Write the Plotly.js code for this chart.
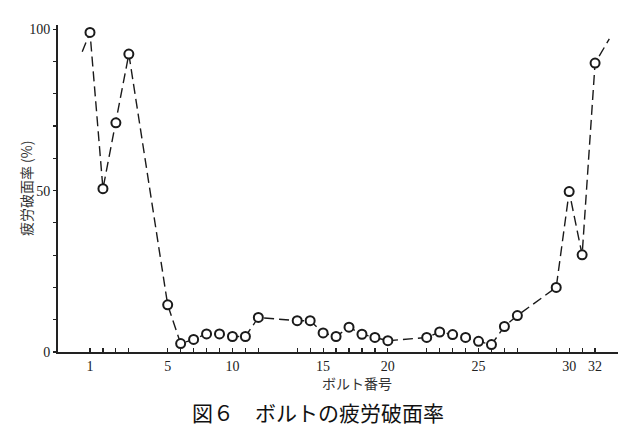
<!DOCTYPE html>
<html>
<head>
<meta charset="utf-8">
<script src="https://cdn.plot.ly/plotly-3.0.1.min.js"></script>
<style>
html,body{margin:0;padding:0;background:#fff;}
#chart{width:637px;height:437px;}
</style>
</head>
<body>
<div id="chart"></div>
<script>
// Bolt numbers and their positions along the axis (groups separated by gaps)
const bolts = [1,2,3,4,5,6,7,8,9,10,11,12,13,14,15,16,17,18,19,20,21,22,23,24,25,26,27,28,29,30,31,32];
const boltPos = [1,2,3,4,7,8,9,10,11,12,13,14,17,18,19,20,21,22,23,24,27,28,29,30,31,32,33,34,37,38,39,40];
// Fatigue fracture surface ratio (%)
const fatigueRatio = [99,50.6,71,92.3,14.6,2.6,3.9,5.6,5.6,4.8,4.8,10.7,9.7,9.7,5.9,4.8,7.7,5.5,4.5,3.5,4.5,6.2,5.4,4.5,3.3,2.3,7.9,11.3,20,49.7,30.1,89.5];
// Line continuing beyond the first and last bolt
const leadInPos = [0.4], leadInVal = [93];
const leadOutPos = [41.1], leadOutVal = [97];
// Tick labels
const xTickBolts = [1,5,10,15,20,25,30,32];
const yTickVals = [0,10,20,30,40,50,60,70,80,90,100];
const yTickLabels = ['0','','','','','50','','','','','100'];

const lineX = leadInPos.concat(boltPos, leadOutPos);
const lineY = leadInVal.concat(fatigueRatio, leadOutVal);

const traces = [
  {x: lineX, y: lineY, mode: 'lines', line: {color: '#1a1a1a', width: 1.4, dash: '10px,5px'}, hoverinfo: 'skip'},
  {x: boltPos, y: fatigueRatio, mode: 'markers', text: bolts,
   marker: {symbol: 'circle', size: 9, color: '#ffffff', line: {color: '#1a1a1a', width: 2}}}
];

const layout = {
  width: 637, height: 437,
  margin: {l: 58, r: 19, t: 25, b: 85},
  paper_bgcolor: '#ffffff', plot_bgcolor: '#ffffff',
  showlegend: false,
  font: {family: 'Liberation Serif, serif', size: 13, color: '#222'},
  xaxis: {
    range: [-1.47, 41.77], showgrid: false, zeroline: false,
    showline: true, linecolor: '#222', linewidth: 2,
    tickmode: 'array', tickvals: boltPos, ticktext: boltPos.map((p, i) => xTickBolts.includes(bolts[i]) ? String(bolts[i]) : ''),
    ticks: 'inside', ticklen: 4, tickwidth: 1.2, tickcolor: '#222',
    tickfont: {family: 'Liberation Serif, serif', size: 14, color: '#222'}
  },
  yaxis: {
    range: [0, 101.3], showgrid: false, zeroline: false,
    showline: true, linecolor: '#222', linewidth: 2,
    tickmode: 'array', tickvals: yTickVals, ticktext: yTickLabels,
    ticks: 'outside', ticklen: 3, tickwidth: 1.2, tickcolor: '#222',
    tickfont: {family: 'Liberation Serif, serif', size: 14, color: '#222'}
  },
  annotations: [
    {text: '疲労破面率 (%)', xref: 'paper', yref: 'paper', x: -0.058, y: 0.5, textangle: -90,
     showarrow: false, xanchor: 'center', yanchor: 'middle',
     font: {family: 'Noto Sans CJK JP', size: 14, color: '#333'}},
    {text: 'ボルト番号', xref: 'paper', yref: 'paper', x: 0.534, y: -0.095,
     showarrow: false, xanchor: 'center', yanchor: 'middle',
     font: {family: 'Noto Sans CJK JP', size: 14, color: '#333'}},
    {text: '図６　ボルトの疲労破面率', xref: 'paper', yref: 'paper', x: 0.464, y: -0.183,
     showarrow: false, xanchor: 'center', yanchor: 'middle',
     font: {family: 'Noto Sans CJK JP', size: 21, color: '#111'}}
  ]
};

Plotly.newPlot('chart', traces, layout, {staticPlot: true, displayModeBar: false});
</script>
</body>
</html>
